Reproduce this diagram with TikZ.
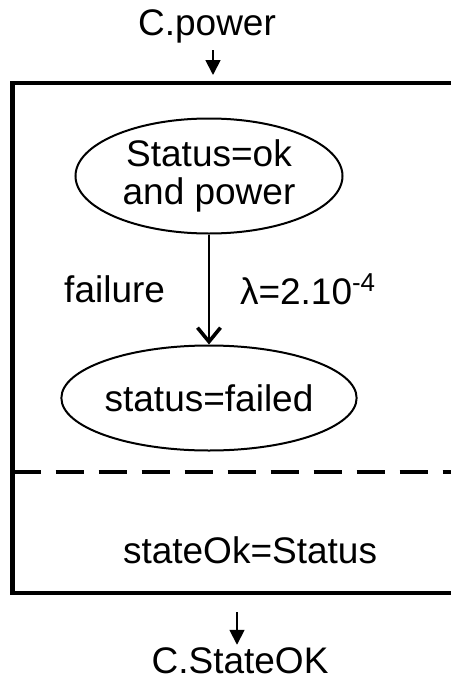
\documentclass[tikz,border=0pt]{standalone}
\usepackage{fontspec}
\setmainfont{Liberation Sans}
\usetikzlibrary{arrows.meta,shapes.geometric,positioning}

\begin{document}
\begin{tikzpicture}[x=0.5pt,y=-0.5pt,
    font=\fontsize{18.5}{19}\selectfont,
    state/.style={draw,ellipse,line width=1pt,inner sep=0pt,minimum width=133.5pt,align=center},
    lbl/.style={inner sep=0pt},
    sig/.style={line width=0.9pt,-{Triangle[length=7.5pt,width=7.5pt]}},
    trans/.style={line width=1pt,-{Straight Barb[length=7pt,width=11.5pt,line width=1.8pt]}}]
  \useasboundingbox (0,0) rectangle (450,680);
  \draw[line width=2.2pt] (12.5,83) rectangle (470,593);
  \draw[line width=2pt,dash pattern=on 14pt off 7.5pt] (12.5,472) -- (470,472);
  \node[lbl,inner sep=3.5pt,anchor=base] (pwr) at (207,35) {C.power};
  \coordinate (pwrin) at (213,75);
  \draw[sig] (pwr.south -| pwrin) -- (pwrin);
  \node[state,minimum height=57.5pt] (ok) at (209,176) {Status=ok\\and power};
  \node[state,minimum height=52.5pt,below=55pt of ok] (failed) {status=failed};
  \draw[trans] (ok) -- node[lbl,left=21.5pt] {failure} node[lbl,right=15pt] {λ=2.10\textsuperscript{-4}} (failed);
  \node[lbl] (eq) at (250,550) {stateOk=Status};
  \coordinate (okout) at (237,612);
  \node[lbl,inner sep=1pt,anchor=base] (stok) at (240,673) {C.StateOK};
  \draw[sig] (okout) -- (okout |- stok.north);
\end{tikzpicture}
\end{document}
